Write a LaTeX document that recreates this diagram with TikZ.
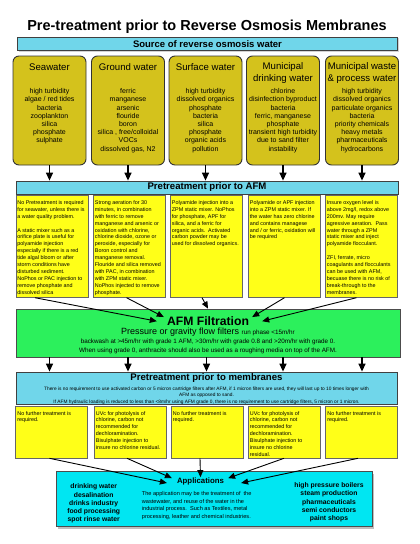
\documentclass[tikz,border=0pt]{standalone}
\usepackage{fontspec}
\setmainfont{Liberation Sans}
\usepackage{xcolor}
\usetikzlibrary{arrows.meta, positioning, shadows}
\definecolor{barcyan}{RGB}{112,214,234}
\definecolor{srcyellow}{RGB}{212,194,28}
\definecolor{noteyellow}{RGB}{255,255,24}
\definecolor{afmgreen}{RGB}{44,240,92}
\definecolor{appcyan}{RGB}{0,230,242}
\tikzset{
  bar/.style={rectangle, draw=black!75, line width=0.8pt, fill=barcyan, inner sep=0pt},
  source/.style={rectangle, draw=black!80, line width=0.9pt, fill=srcyellow, rounded corners=6pt, minimum width=73pt, minimum height=109pt, inner sep=0pt},
  note/.style={rectangle, draw=black!60, line width=0.6pt, fill=noteyellow, minimum width=72pt, inner sep=0pt},
  notetext/.style={align=left, anchor=north west, inner sep=0pt, font=\fontsize{5.4}{6.9}\selectfont},
  listtext/.style={align=center, anchor=north, inner sep=0pt, font=\fontsize{7}{8.2}\selectfont},
  head/.style={align=center, inner sep=0pt, font=\fontsize{9.6}{11.7}\selectfont},
  softshadow/.style={drop shadow={opacity=0.35, shadow xshift=1pt, shadow yshift=-1.2pt}},
  drop/.style={-{Triangle[width=7pt,length=8pt]}, line width=1.3pt},
  link/.style={-{Triangle[width=6pt,length=7pt]}, line width=0.9pt},
}
\begin{document}
\begin{tikzpicture}[x=1pt, y=-1pt]
  \useasboundingbox (0,0) rectangle (420,544);
  % title and source bar
  \node[font=\fontsize{14.5}{17}\selectfont\bfseries] (title) at (207,27) {Pre-treatment prior to Reverse Osmosis Membranes};
  \node[bar, softshadow, minimum width=380pt, minimum height=13.5pt, font=\fontsize{9.5}{11}\selectfont\bfseries] (srcbar) at (207.5,44) {Source of reverse osmosis water};
  % sources of water
  \node[source] (sea) at (49.5,110.5) {};
  \node[source] (ground) at (128,110.5) {};
  \node[source] (surface) at (205.5,110.5) {};
  \node[source] (munic) at (283,110.5) {};
  \node[source] (waste) at (362,110.5) {};
  \node[head] (seahead) at (49.5,67.3) {Seawater};
  \node[head] (groundhead) at (128,67.3) {Ground water};
  \node[head] (surfacehead) at (205.5,67.3) {Surface water};
  \node[head] (munichead) at (283,73.2) {Municipal\\drinking water};
  \node[head] (wastehead) at (362,73.2) {Municipal waste\\\& process water};
  \node[listtext] (sealist) at (49.5,88.5) {high turbidity\\algae / red tides\\bacteria\\zooplankton\\silica\\phosphate\\sulphate};
  \node[listtext] (groundlist) at (128,88.5) {ferric\\manganese\\arsenic\\flouride\\boron\\silica , free/colloidal\\VOCs\\dissolved gas, N2};
  \node[listtext] (surfacelist) at (205.5,88.5) {high turbidity\\dissolved organics\\phosphate\\bacteria\\silica\\phosphate\\organic acids\\pollution};
  \node[listtext] (municlist) at (283,88.5) {chlorine\\disinfection byproduct\\bacteria\\ferric, manganese\\phosphate\\transient high turbidity\\due to sand filter\\instability};
  \node[listtext] (wastelist) at (362,88.5) {high turbidity\\dissolved organics\\particulate organics\\bacteria\\priority chemicals\\heavy metals\\pharmaceuticals\\hydrocarbons};
  % pretreatment prior to AFM
  \node[bar, softshadow, minimum width=382pt, minimum height=13pt, font=\fontsize{9.6}{11}\selectfont\bfseries] (pabar) at (207,187.5) {Pretreatment prior to AFM};
  \draw[drop] (sea.south) -- (sea.south |- pabar.north);
  \draw[drop] (ground.south) -- (ground.south |- pabar.north);
  \draw[drop] (surface.south) -- (surface.south |- pabar.north);
  \draw[drop] (munic.south) -- (munic.south |- pabar.north);
  \draw[drop] (waste.south) -- (waste.south |- pabar.north);
  \node[note, minimum height=102pt] (pa1) at (52,246.4) {};
  \node[note, minimum height=102pt] (pa2) at (129.5,246.4) {};
  \node[note, minimum height=102pt] (pa3) at (206.5,246.4) {};
  \node[note, minimum height=102pt] (pa4) at (284.5,246.4) {};
  \node[note, minimum height=102pt] (pa5) at (361.5,246.4) {};
  \node[notetext] (patext1) at ([xshift=1.5pt,yshift=-5.2pt]pa1.north west) {No Pretreatment is required\\for seawater, unless there is\\a water quality problem.\\[6.9pt]A static mixer such as a\\orifice plate is useful for\\polyamide injection\\especially if there is a red\\tide algal bloom or after\\storm conditions have\\disturbed sediment.\\NoPhos or PAC injection to\\remove phosphate and\\dissolved silica};
  \node[notetext] (patext2) at ([xshift=1.5pt,yshift=-5.2pt]pa2.north west) {Strong aeration for 30\\minutes, in combination\\with ferric to remove\\manganese and arsenic or\\oxidation with chlorine,\\chlorine dioxide, ozone or\\peroxide, especially for\\Boron control and\\manganese removal.\\Flouride and silica removed\\with PAC, in combination\\with ZPM static mixer.\\NoPhos injected to remove\\phosphate.};
  \node[notetext] (patext3) at ([xshift=1.5pt,yshift=-5.2pt]pa3.north west) {Polyamide injection into a\\ZPM static mixer. NoPhos\\for phosphate, APF for\\silica, and a ferric for\\organic acids.\ \ Activated\\carbon powder may be\\used for dissolved organics.};
  \node[notetext] (patext4) at ([xshift=1.5pt,yshift=-5.2pt]pa4.north west) {Polyamide or APF injection\\into a ZPM static mixer. If\\the water has zero chlorine\\and contains managese\\and / or ferric, oxidation will\\be required};
  \node[notetext] (patext5) at ([xshift=1.5pt,yshift=-5.2pt]pa5.north west) {Insure oxygen level is\\above 2mg/l, redox above\\200mv. May require\\agressive aeration.\ \ Pass\\water through a ZPM\\static mixer and inject\\polyamide flocculant.\\[6.9pt]ZFI, ferrate, micro\\coagulants and flocculants\\can be used with AFM,\\becuase there is no risk of\\break-through to the\\membranes.};
  % AFM filtration
  \node[rectangle, draw=black!70, line width=0.8pt, fill=afmgreen, softshadow, minimum width=384pt, minimum height=48pt, inner sep=0pt] (afm) at (208,333) {};
  \node[font=\fontsize{12.2}{14}\selectfont\bfseries, inner sep=0pt] (afmtitle) at (208,320.7) {AFM Filtration};
  \node[font=\fontsize{9}{10}\selectfont, inner sep=0pt] (afmflow) at (208,332.3) {Pressure or gravity flow filters {\fontsize{6.3}{7}\selectfont run phase <15m/hr}};
  \node[font=\fontsize{6.3}{7}\selectfont, inner sep=0pt] (afmwash) at (208,341.7) {backwash at >45m/hr with grade 1 AFM, >30m/hr with grade 0.8 and >20m/hr with grade 0.};
  \node[font=\fontsize{6.3}{7}\selectfont, inner sep=0pt] (afmgrade) at (208,351) {When using grade 0, anthracite should also be used as a roughing media on top of the AFM.};
  \draw[link] ([xshift=-17pt]pa1.south) -- ([xshift=-10pt,yshift=-0.5pt]afmtitle.west);
  \draw[link] ([xshift=-3pt]pa2.south) -- ([xshift=-3pt,yshift=-1pt]afmtitle.north west);
  \draw[link] ([xshift=-4.5pt]pa3.south) -- (afm.north -| afmtitle.north);
  \draw[link] (pa4.south) -- ([xshift=3pt,yshift=-1pt]afmtitle.north east);
  \draw[link] ([xshift=-5pt]pa5.south) -- ([xshift=13pt,yshift=-0.5pt]afmtitle.east);
  % pretreatment prior to membranes
  \node[bar, softshadow, minimum width=381pt, minimum height=32pt] (pmbox) at (206.5,388) {};
  \node[font=\fontsize{9.6}{11}\selectfont\bfseries, inner sep=0pt] (pmtitle) at (206.5,378.5) {Pretreatment prior to membranes};
  \node[font=\fontsize{4.8}{6.5}\selectfont, align=center, inner sep=0pt, anchor=north] (pmtext) at (206.5,386.8) {There is no requirement to use activated carbon or 5 micron cartridge filters after AFM, if 1 micron filters are used, they will last up to 10 times longer with\\AFM as opposed to sand.\\If AFM hydraulic loading is reduced to less than <8m/hr using AFM grade 0, there is no requirement to use cartridge filters, 5 micron or 1 micron.};
  \draw[drop] (afm.south -| sea.south) -- (pmbox.north -| sea.south);
  \draw[drop] (afm.south -| ground.south) -- (pmbox.north -| ground.south);
  \draw[drop] (afm.south -| pa3.south) -- (pmbox.north -| pa3.south);
  \draw[drop] (afm.south -| munic.south) -- (pmbox.north -| munic.south);
  \draw[drop] (afm.south -| waste.south) -- (pmbox.north -| waste.south);
  \node[note, minimum height=52pt] (pm1) at (51.5,432) {};
  \node[note, minimum height=52pt] (pm2) at (130,432) {};
  \node[note, minimum height=52pt] (pm3) at (207,432) {};
  \node[note, minimum height=52pt] (pm4) at (284,432) {};
  \node[note, minimum height=52pt] (pm5) at (361.5,432) {};
  \node[notetext] (pmtext1) at ([xshift=2pt,yshift=-5.2pt]pm1.north west) {No further treatment is\\required.};
  \node[notetext] (pmtext2) at ([xshift=2pt,yshift=-5.2pt]pm2.north west) {UVc for photolysis of\\chlorine, carbon not\\recommended for\\dechloramination.\\Bisulphate injection to\\insure no chlorine residual.};
  \node[notetext] (pmtext3) at ([xshift=2pt,yshift=-5.2pt]pm3.north west) {No further treatment is\\required.};
  \node[notetext] (pmtext4) at ([xshift=2pt,yshift=-5.2pt]pm4.north west) {UVc for photolysis of\\chlorine, carbon not\\recommended for\\dechloramination.\\Bisulphate injection to\\insure no chlorine\\residual.};
  \node[notetext] (pmtext5) at ([xshift=2pt,yshift=-5.2pt]pm5.north west) {No further treatment is\\required.};
  % applications
  \node[rectangle, draw=black!70, line width=0.8pt, fill=appcyan, drop shadow={opacity=0.5, shadow xshift=2pt, shadow yshift=-2.5pt}, minimum width=316pt, minimum height=55pt, inner sep=0pt] (apps) at (214,498.5) {};
  \node[font=\fontsize{7.8}{9}\selectfont\bfseries, inner sep=0pt] (appstitle) at (200.5,481) {Applications};
  \node[font=\fontsize{6.8}{8.2}\selectfont\bfseries, align=center, inner sep=0pt] (appsleft) at (93.7,503.6) {drinking water\\desalination\\drinks industry\\food processing\\spot rinse water};
  \node[font=\fontsize{5.6}{7.6}\selectfont, align=left, inner sep=0pt, anchor=north west] (appsmid) at (141.7,491.3) {The application may be the treatment of\ \ the\\wastewater, and reuse of the water in the\\industrial process.\ \ Such as Textiles, metal\\processing, leather and chemical industries.};
  \node[font=\fontsize{6.8}{8.2}\selectfont\bfseries, align=center, inner sep=0pt] (appsright) at (329,502.3) {high pressure boilers\\steam production\\pharmaceuticals\\semi conductors\\paint shops};
  \draw[link] ([xshift=-2pt]pm1.south) -- ([xshift=-10pt,yshift=-2pt]appstitle.west);
  \draw[link] ([xshift=-3pt]pm2.south) -- ([xshift=-5pt,yshift=-1pt]appstitle.north west);
  \draw[link] ([xshift=-7pt]pm3.south) -- (appstitle.north);
  \draw[link] (pm4.south) -- ([xshift=4pt,yshift=-1pt]appstitle.north east);
  \draw[link] ([xshift=-3.5pt]pm5.south) -- ([xshift=17pt,yshift=-2pt]appstitle.east);
\end{tikzpicture}
\end{document}
